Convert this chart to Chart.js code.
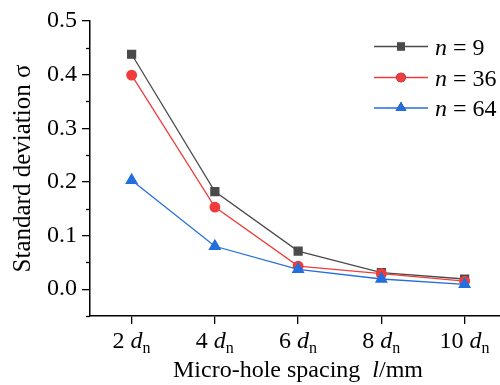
<!DOCTYPE html>
<html>
<head>
<meta charset="utf-8">
<script src="https://cdn.jsdelivr.net/npm/chart.js@4.4.1/dist/chart.umd.min.js"></script>
<style>
  html, body { margin: 0; padding: 0; background: #fff; }
  #wrap { width: 500px; height: 385px; position: relative; }
</style>
</head>
<body>
<div id="wrap"><canvas id="sigmaChart"></canvas></div>
<script>
// spacing in multiples of d_n
const spacing = [2, 4, 6, 8, 10];
const yTicks = [0, 0.1, 0.2, 0.3, 0.4, 0.5];
const yMinorTicks = [-0.05, 0.05, 0.15, 0.25, 0.35, 0.45];

const sigmaN9 = [0.438, 0.182, 0.071, 0.031, 0.019];
const sigmaN36 = [0.399, 0.153, 0.043, 0.029, 0.015];
const sigmaN64 = [0.203, 0.080, 0.037, 0.019, 0.009];

const seriesNames = ['9', '36', '64'];
const SERIF = '"Liberation Serif", "Times New Roman", serif';

const toPoints = arr => arr.map((v, i) => ({ x: spacing[i], y: v }));

// tick labels, axis title and legend need italic / subscript parts
const textPlugin = {
    id: 'textPlugin',
    afterDraw(chart) {
        const ctx = chart.ctx;
        const xs = chart.scales.x;
        const ys = chart.scales.y;
        ctx.save();
        ctx.fillStyle = '#000';
        ctx.textBaseline = 'alphabetic';
        ctx.textAlign = 'left';

        // minor y ticks
        ctx.strokeStyle = '#000';
        ctx.lineWidth = 1.3;
        yMinorTicks.forEach(v => {
            const py = Math.round(ys.getPixelForValue(v)) + 0.5;
            ctx.beginPath();
            ctx.moveTo(xs.left - 4, py);
            ctx.lineTo(xs.left, py);
            ctx.stroke();
        });

        // x tick labels "2 dn"
        spacing.forEach(v => {
            const px = xs.getPixelForValue(v);
            const parts = [
                { t: v + ' ', f: '24px ' + SERIF, dy: 0 },
                { t: 'd', f: 'italic 24px ' + SERIF, dy: 0 },
                { t: 'n', f: '16px ' + SERIF, dy: 5 }
            ];
            let w = 0;
            parts.forEach(p => { ctx.font = p.f; p.w = ctx.measureText(p.t).width; w += p.w; });
            let cx = px - w / 2;
            parts.forEach(p => {
                ctx.font = p.f;
                ctx.fillText(p.t, cx, 348 + p.dy);
                cx += p.w;
            });
        });

        // x axis title
        const tparts = [
            { t: 'Micro-hole spacing  ', f: '24px ' + SERIF },
            { t: 'l', f: 'italic 24px ' + SERIF },
            { t: '/mm', f: '24px ' + SERIF }
        ];
        let tw = 0;
        tparts.forEach(p => { ctx.font = p.f; p.w = ctx.measureText(p.t).width; tw += p.w; });
        let tx = 298 - tw / 2;
        tparts.forEach(p => {
            ctx.font = p.f;
            ctx.fillText(p.t, tx, 377);
            tx += p.w;
        });

        // legend
        const rows = [46.5, 77.5, 108];
        chart.data.datasets.forEach((ds, i) => {
            const y = rows[i];
            ctx.strokeStyle = ds.borderColor;
            ctx.lineWidth = ds.borderWidth;
            ctx.beginPath();
            ctx.moveTo(374, y);
            ctx.lineTo(428, y);
            ctx.stroke();
            Chart.helpers.drawPoint(ctx, {
                pointStyle: ds.pointStyle,
                radius: ds.pointRadius,
                rotation: 0,
                borderWidth: 0
            }, 401, y);
            ctx.fillStyle = ds.backgroundColor;
            ctx.fill();
            ctx.fillStyle = '#000';
            ctx.font = 'italic 24px ' + SERIF;
            ctx.fillText('n', 435, y + 8);
            const nw = ctx.measureText('n').width;
            ctx.font = '24px ' + SERIF;
            ctx.fillText(' = ' + seriesNames[i], 435 + nw, y + 8);
        });
        ctx.restore();
    }
};

const ctx = document.getElementById('sigmaChart').getContext('2d');
new Chart(ctx, {
    type: 'line',
    data: {
        datasets: [{
            label: 'n = 9',
            data: toPoints(sigmaN9),
            borderColor: '#4a4a4a',
            backgroundColor: '#4a4a4a',
            pointStyle: 'rect',
            pointRadius: 5.6,
            borderWidth: 1.3,
            order: 3
        }, {
            label: 'n = 36',
            data: toPoints(sigmaN36),
            borderColor: '#ef3d3d',
            backgroundColor: '#ef3d3d',
            pointStyle: 'circle',
            pointRadius: 4.8,
            borderWidth: 1.3,
            order: 2
        }, {
            label: 'n = 64',
            data: toPoints(sigmaN64),
            borderColor: '#226fdd',
            backgroundColor: '#226fdd',
            pointStyle: 'triangle',
            pointRadius: 6.2,
            borderWidth: 1.3,
            order: 1
        }]
    },
    options: {
        responsive: true,
        maintainAspectRatio: false,
        animation: false,
        layout: { autoPadding: false, padding: { top: 21, right: 0, left: 0, bottom: 0 } },
        elements: { line: { tension: 0 }, point: { borderWidth: 0, hoverRadius: 6 } },
        scales: {
            x: {
                type: 'linear',
                min: 1,
                max: 10.85,
                afterBuildTicks: axis => { axis.ticks = spacing.map(v => ({ value: v })); },
                afterFit: axis => { axis.height = 69; },
                ticks: { display: false },
                grid: { drawOnChartArea: false, drawTicks: true, tickLength: 8, color: '#000', lineWidth: 1.3 },
                border: { display: true, color: '#000', width: 1.5 }
            },
            y: {
                min: -0.05,
                max: 0.5,
                afterBuildTicks: axis => { axis.ticks = yTicks.map(v => ({ value: v })); },
                afterFit: axis => { axis.width = 90; },
                ticks: {
                    color: '#000',
                    padding: 5,
                    font: { family: SERIF, size: 24 },
                    callback: v => v.toFixed(1)
                },
                grid: { drawOnChartArea: false, drawTicks: true, tickLength: 8, color: '#000', lineWidth: 1.3 },
                border: { display: true, color: '#000', width: 1.5 },
                title: {
                    display: true,
                    text: 'Standard deviation σ',
                    color: '#000',
                    font: { family: SERIF, size: 25 },
                    padding: { top: 8, bottom: 0 }
                }
            }
        },
        plugins: {
            legend: { display: false },
            tooltip: { enabled: false }
        }
    },
    plugins: [textPlugin]
});
</script>
</body>
</html>
